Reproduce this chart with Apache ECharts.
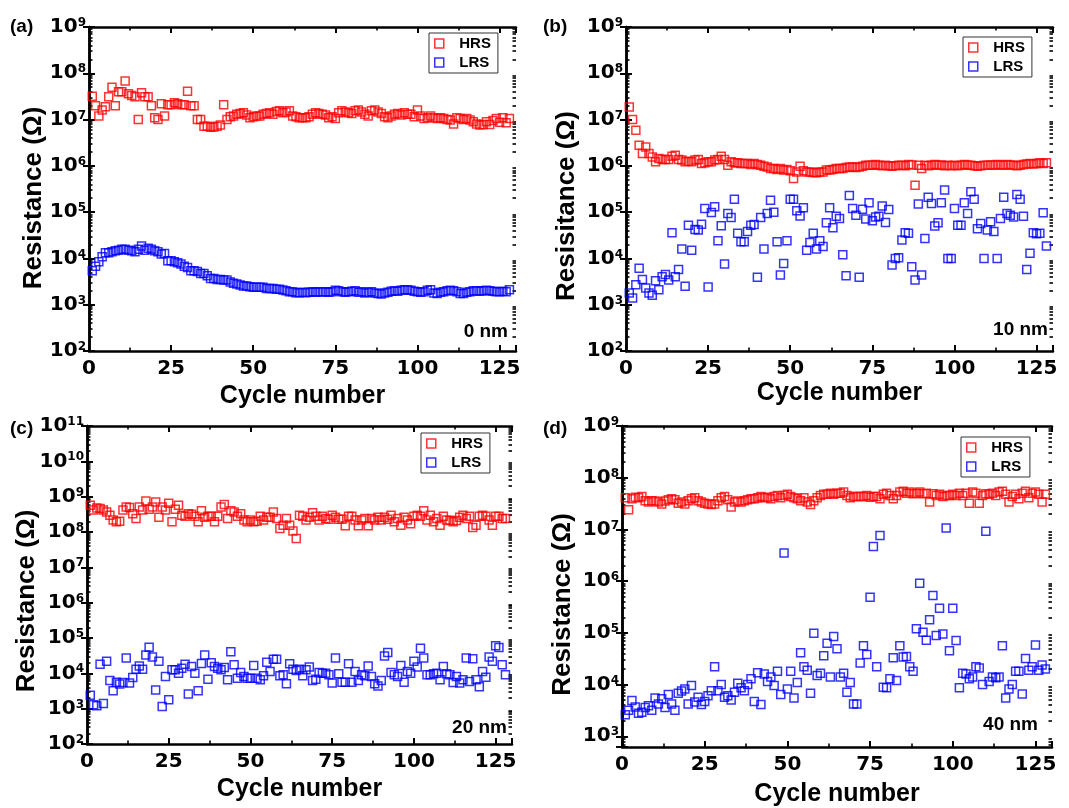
<!DOCTYPE html>
<html>
<head>
<meta charset="utf-8">
<title>Resistance vs cycle number</title>
<script src="https://cdn.jsdelivr.net/npm/echarts@6.0.0/dist/echarts.min.js"></script>
<style>
  html, body { margin: 0; padding: 0; background: #fff; }
  #chart { width: 1069px; height: 808px; }
</style>
</head>
<body>
<div id="chart"></div>
<script>
// values, one per cycle (cycle 1 .. 128), in ohm
const hrsA = [
  3.2e7, 2.0e7, 1.2e7, 1.6e7, 1.9e7, 3.1e7, 5.0e7, 2.0e7, 4.0e7, 4.0e7,
  6.8e7, 3.6e7, 3.3e7, 3.1e7, 1.0e7, 3.8e7, 3.1e7, 3.1e7, 2.0e7, 1.1e7,
  1.0e7, 2.2e7, 1.2e7, 2.1e7, 2.1e7, 2.3e7, 2.2e7, 2.1e7, 2.1e7, 4.1e7,
  2.0e7, 2.0e7, 1.0e7, 1.0e7, 7.2e6, 7.2e6, 6.8e6, 6.9e6, 7.2e6, 7.6e6,
  2.1e7, 1.0e7, 1.15e7, 1.2e7, 1.3e7, 1.35e7, 1.4e7, 1.25e7, 1.1e7, 1.15e7,
  1.2e7, 1.2e7, 1.3e7, 1.35e7, 1.4e7, 1.3e7, 1.5e7, 1.55e7, 1.4e7, 1.45e7,
  1.55e7, 1.2e7, 1.15e7, 1.1e7, 1.1e7, 1.1e7, 1.15e7, 1.3e7, 1.4e7, 1.35e7,
  1.3e7, 1.25e7, 1.1e7, 1.15e7, 1.05e7, 1.4e7, 1.55e7, 1.45e7, 1.4e7, 1.35e7,
  1.55e7, 1.6e7, 1.45e7, 1.3e7, 1.2e7, 1.55e7, 1.6e7, 1.45e7, 1.35e7, 1.15e7,
  1.1e7, 1.2e7, 1.3e7, 1.35e7, 1.25e7, 1.4e7, 1.3e7, 1.3e7, 1.15e7, 1.6e7,
  1.2e7, 1.05e7, 1.1e7, 1.2e7, 1.1e7, 1.05e7, 1.1e7, 1.05e7, 1.0e7, 9.8e6,
  8.0e6, 1.1e7, 1.05e7, 1.0e7, 1.05e7, 9.8e6, 9.0e6, 8.0e6, 7.6e6, 7.8e6,
  9.0e6, 7.8e6, 9.5e6, 1.05e7, 8.8e6, 1.1e7, 8.5e6, 1.05e7
];
const lrsA = [
  5.4e3, 6.8e3, 8.5e3, 1.09e4, 1.33e4, 1.33e4, 1.39e4, 1.47e4, 1.51e4, 1.57e4,
  1.57e4, 1.51e4, 1.47e4, 1.39e4, 1.57e4, 1.85e4, 1.51e4, 1.65e4, 1.57e4, 1.47e4,
  1.39e4, 1.24e4, 1.28e4, 8.9e3, 8.9e3, 8.5e3, 8.1e3, 7.6e3, 6.8e3, 6.4e3,
  5.4e3, 5.4e3, 5.2e3, 4.75e3, 4.75e3, 4.2e3, 3.7e3, 3.7e3, 3.5e3, 3.5e3,
  3.4e3, 3.4e3, 3.1e3, 2.9e3, 2.8e3, 2.65e3, 2.55e3, 2.55e3, 2.45e3, 2.37e3,
  2.37e3, 2.37e3, 2.37e3, 2.25e3, 2.25e3, 2.25e3, 2.15e3, 2.15e3, 2.07e3, 2.0e3,
  1.9e3, 1.9e3, 1.82e3, 1.82e3, 1.85e3, 1.82e3, 1.85e3, 1.9e3, 1.85e3, 1.9e3,
  1.88e3, 1.9e3, 1.85e3, 1.9e3, 2.05e3, 2.0e3, 1.9e3, 1.85e3, 1.9e3, 1.95e3,
  2.0e3, 1.85e3, 1.9e3, 1.8e3, 1.85e3, 1.9e3, 1.8e3, 1.75e3, 1.7e3, 1.8e3,
  1.85e3, 1.95e3, 2.0e3, 1.95e3, 2.05e3, 2.1e3, 2.1e3, 2.05e3, 1.95e3, 1.9e3,
  1.85e3, 1.9e3, 2.05e3, 2.1e3, 1.8e3, 1.75e3, 1.85e3, 1.9e3, 2.0e3, 2.05e3,
  2.0e3, 1.9e3, 1.75e3, 1.75e3, 1.85e3, 1.9e3, 2.0e3, 2.0e3, 1.95e3, 2.0e3,
  2.05e3, 2.0e3, 1.95e3, 1.9e3, 1.9e3, 1.95e3, 1.9e3, 2.1e3
];
const hrsB = [
  1.88e7, 1.0e7, 5.9e6, 2.8e6, 1.85e6, 2.57e6, 1.85e6, 1.56e6, 1.22e6, 1.44e6,
  1.37e6, 1.37e6, 1.37e6, 1.62e6, 1.7e6, 1.37e6, 1.33e6, 1.22e6, 1.26e6, 1.22e6,
  1.33e6, 1.37e6, 1.12e6, 1.16e6, 1.22e6, 1.22e6, 1.33e6, 1.37e6, 1.62e6, 1.37e6,
  1.03e6, 1.22e6, 1.16e6, 1.16e6, 1.12e6, 1.12e6, 1.12e6, 1.07e6, 1.12e6, 1.07e6,
  1.03e6, 9.8e5, 9.5e5, 8.75e5, 8.75e5, 8.3e5, 8.75e5, 8.1e5, 8.3e5, 7.8e5,
  5.3e5, 7.4e5, 9.8e5, 7.8e5, 7.4e5, 7.4e5, 7.2e5, 7.1e5, 7.4e5, 7.4e5,
  8.1e5, 8.1e5, 8.3e5, 8.75e5, 8.75e5, 8.75e5, 9.2e5, 9.5e5, 9.5e5, 9.2e5,
  9.5e5, 9.8e5, 1.03e6, 1.03e6, 1.03e6, 1.07e6, 1.03e6, 1.0e6, 1.03e6, 1.0e6,
  9.8e5, 1.0e6, 1.03e6, 1.03e6, 1.0e6, 1.07e6, 1.05e6, 3.8e5, 1.03e6, 8.75e5,
  1.03e6, 1.0e6, 1.03e6, 1.07e6, 1.03e6, 1.05e6, 1.0e6, 1.03e6, 1.0e6, 1.03e6,
  1.0e6, 1.03e6, 1.07e6, 1.05e6, 1.03e6, 1.0e6, 9.8e5, 1.0e6, 1.03e6, 1.03e6,
  1.05e6, 1.03e6, 1.07e6, 1.05e6, 1.03e6, 1.07e6, 1.05e6, 1.03e6, 1.0e6, 1.03e6,
  1.07e6, 1.1e6, 1.12e6, 1.1e6, 1.12e6, 1.16e6, 1.12e6, 1.16e6
];
const lrsB = [
  1.8e3, 1.4e3, 2.7e3, 6.1e3, 3.5e3, 2.3e3, 1.8e3, 1.6e3, 3.3e3, 2.1e3,
  4.0e3, 4.5e3, 3.4e3, 3.6e4, 4.0e3, 5.8e3, 1.6e4, 2.5e3, 5.2e4, 1.5e4,
  4.2e4, 4.1e4, 5.5e4, 1.2e5, 2.4e3, 9.8e4, 1.3e5, 2.4e4, 5.1e4, 7.6e3,
  9.4e4, 7.7e4, 1.9e5, 3.5e4, 2.3e4, 2.3e4, 3.8e4, 5.2e4, 5.4e4, 3.9e3,
  7.7e4, 1.6e4, 9.4e4, 1.8e5, 1.0e5, 2.3e4, 4.4e3, 7.8e3, 2.4e4, 1.9e5,
  1.9e5, 1.07e5, 8.3e4, 1.24e5, 1.5e4, 2.2e4, 3.5e4, 1.6e4, 2.4e4, 1.8e4,
  5.9e4, 1.24e5, 4.6e4, 8.2e4, 7.3e4, 1.2e4, 4.2e3, 2.3e5, 1.2e5, 8.6e4,
  3.9e3, 1.16e5, 7.1e4, 1.6e5, 6.5e4, 7.9e4, 8.2e4, 1.35e5, 6.0e4, 1.14e5,
  7.2e3, 1.0e4, 1.03e4, 2.5e4, 3.6e4, 3.5e4, 6.6e3, 3.4e3, 1.5e5, 4.4e3,
  2.7e4, 2.1e5, 1.54e5, 5.0e4, 5.9e4, 1.6e5, 3.0e5, 1.0e4, 1.0e4, 1.2e5,
  5.2e4, 5.2e4, 1.6e5, 9.4e4, 2.75e5, 1.9e5, 4.4e4, 5.7e4, 1.0e4, 4.1e4,
  6.2e4, 3.8e4, 1.0e4, 7.3e4, 2.1e5, 9.4e4, 8.6e4, 7.9e4, 2.4e5, 1.9e5,
  8.2e4, 5.8e3, 1.3e4, 3.6e4, 3.4e4, 3.5e4, 9.7e4, 1.85e4
];
const hrsC = [
  5.7e8, 4.2e8, 4.8e8, 4.6e8, 4.2e8, 3.7e8, 3.0e8, 2.2e8, 1.95e8, 2.0e8,
  4.2e8, 5.1e8, 4.9e8, 3.3e8, 2.4e8, 5.1e8, 4.2e8, 7.6e8, 4.4e8, 5.1e8,
  7.1e8, 2.6e8, 5.1e8, 4.2e8, 6.5e8, 1.95e8, 4.4e8, 5.7e8, 3.0e8, 2.8e8,
  3.3e8, 3.2e8, 2.8e8, 1.95e8, 4.0e8, 2.6e8, 2.8e8, 2.8e8, 1.95e8, 2.8e8,
  5.1e8, 6.0e8, 2.4e8, 4.0e8, 3.7e8, 2.8e8, 3.3e8, 2.2e8, 1.95e8, 2.2e8,
  1.95e8, 2.0e8, 2.8e8, 2.2e8, 2.6e8, 2.6e8, 3.7e8, 2.4e8, 1.26e8, 1.55e8,
  2.4e8, 1.55e8, 1.07e8, 6.6e7, 3.0e8, 2.8e8, 2.2e8, 2.6e8, 3.5e8, 2.8e8,
  2.2e8, 2.8e8, 2.4e8, 2.3e8, 3.0e8, 2.6e8, 2.3e8, 2.3e8, 1.5e8, 2.8e8,
  2.8e8, 2.2e8, 1.5e8, 2.2e8, 2.4e8, 1.5e8, 2.4e8, 2.2e8, 2.6e8, 2.2e8,
  2.6e8, 2.3e8, 3.0e8, 1.95e8, 2.4e8, 1.55e8, 2.6e8, 2.2e8, 1.7e8, 2.8e8,
  3.0e8, 2.8e8, 4.0e8, 2.2e8, 3.0e8, 1.95e8, 2.4e8, 1.55e8, 2.8e8, 2.2e8,
  2.1e8, 1.95e8, 2.1e8, 2.6e8, 3.0e8, 2.4e8, 2.8e8, 1.35e8, 1.55e8, 2.8e8,
  3.0e8, 2.8e8, 2.2e8, 1.55e8, 2.8e8, 2.8e8, 2.4e8, 2.4e8
];
const lrsC = [
  2.4e3, 1.3e3, 1.2e3, 1.8e4, 1.4e3, 2.2e4, 6.3e3, 3.2e3, 5.6e3, 5.0e3,
  5.5e3, 2.7e4, 5.3e3, 7.6e3, 1.3e4, 1.6e4, 1.3e4, 3.3e4, 5.5e4, 2.9e4,
  3.4e3, 2.2e4, 1.16e3, 8.1e3, 1.8e3, 1.26e4, 1.26e4, 1.0e4, 1.4e4, 1.8e4,
  2.6e3, 1.56e4, 1.0e4, 3.2e3, 1.9e4, 3.3e4, 6.8e3, 2.0e4, 1.56e4, 1.4e4,
  1.26e4, 1.46e4, 6.6e3, 4.1e4, 1.74e4, 7.3e3, 1.06e4, 8.1e3, 7.3e3, 7.3e3,
  1.66e4, 7.3e3, 6.6e3, 8.5e3, 2.07e4, 1.13e4, 2.5e4, 2.5e4, 8.5e3, 9.1e3,
  5.1e3, 1.86e4, 1.3e4, 1.2e4, 1.3e4, 8.5e3, 1.26e4, 1.5e4, 6.3e3, 6.8e3,
  1.06e4, 1.0e4, 1.0e4, 9.1e3, 5.3e3, 2.7e4, 9.7e3, 5.6e3, 5.6e3, 1.86e4,
  5.6e3, 1.13e4, 6.3e3, 9.1e3, 8.5e3, 1.6e4, 8.1e3, 5.1e3, 4.4e3, 6.3e3,
  3.1e4, 3.9e4, 1.06e4, 9.1e3, 8.1e3, 1.66e4, 5.6e3, 1.13e4, 1.0e4, 2.2e4,
  1.5e4, 5.1e4, 2.7e4, 9.1e3, 9.1e3, 9.7e3, 1.0e4, 6.6e3, 1.56e4, 9.7e3,
  9.1e3, 5.5e3, 8.1e3, 5.3e3, 6.6e3, 2.7e4, 5.9e3, 2.6e4, 6.6e3, 4.2e3,
  1.13e4, 7.8e3, 2.9e4, 2.2e4, 6.0e4, 5.4e4, 1.74e4, 9.1e3
];
const hrsD = [
  4.1e7, 2.4e7, 3.9e7, 4.2e7, 4.1e7, 4.35e7, 3.6e7, 3.4e7, 3.6e7, 3.55e7,
  3.4e7, 3.1e7, 3.55e7, 3.75e7, 3.9e7, 3.75e7, 3.2e7, 3.4e7, 3.1e7, 3.6e7,
  3.9e7, 4.1e7, 3.6e7, 3.4e7, 3.2e7, 3.1e7, 3.05e7, 3.1e7, 3.6e7, 4.1e7,
  4.35e7, 3.75e7, 2.7e7, 3.4e7, 3.55e7, 3.4e7, 3.6e7, 3.75e7, 3.9e7, 3.9e7,
  4.1e7, 4.35e7, 4.1e7, 4.2e7, 3.9e7, 4.35e7, 4.55e7, 4.1e7, 4.55e7, 4.8e7,
  4.35e7, 4.1e7, 3.9e7, 3.6e7, 4.1e7, 3.4e7, 3.05e7, 3.6e7, 4.1e7, 4.55e7,
  4.8e7, 4.8e7, 5.0e7, 4.8e7, 5.0e7, 5.0e7, 5.3e7, 4.55e7, 4.1e7, 4.35e7,
  4.35e7, 4.35e7, 4.35e7, 4.55e7, 4.2e7, 4.35e7, 4.35e7, 3.9e7, 4.8e7, 5.0e7,
  4.55e7, 3.9e7, 4.55e7, 5.3e7, 5.5e7, 5.0e7, 5.3e7, 4.9e7, 5.0e7, 5.3e7,
  4.9e7, 5.0e7, 3.4e7, 4.9e7, 4.55e7, 4.8e7, 4.35e7, 4.55e7, 4.55e7, 4.8e7,
  4.55e7, 5.0e7, 4.55e7, 5.0e7, 3.2e7, 5.3e7, 5.0e7, 3.2e7, 4.55e7, 4.9e7,
  4.8e7, 5.0e7, 4.55e7, 5.3e7, 5.5e7, 4.8e7, 3.4e7, 4.35e7, 4.8e7, 3.9e7,
  5.0e7, 5.5e7, 4.1e7, 5.0e7, 5.3e7, 4.8e7, 3.4e7, 4.8e7
];
const lrsD = [
  2.6e3, 3.2e3, 4.9e3, 3.7e3, 2.8e3, 2.9e3, 3.6e3, 3.9e3, 3.2e3, 5.5e3,
  4.2e3, 5.3e3, 3.6e3, 6.4e3, 4.2e3, 3.2e3, 6.8e3, 7.5e3, 8.2e3, 4.2e3,
  9.6e3, 4.6e3, 5.7e3, 4.1e3, 4.7e3, 6.1e3, 7.6e3, 2.2e4, 7.6e3, 1.0e4,
  5.7e3, 6.1e3, 5.0e3, 7.1e3, 1.06e4, 8.7e3, 7.6e3, 1.0e4, 1.3e4, 4.7e3,
  1.7e4, 4.1e3, 1.6e4, 1.15e4, 1.4e4, 9.6e3, 1.8e4, 6.4e3, 3.5e6, 8.2e3,
  1.8e4, 5.5e3, 1.1e4, 4.1e4, 2.2e4, 1.9e4, 6.8e3, 9.8e4, 1.5e4, 1.65e4,
  3.6e4, 6.3e4, 1.4e4, 8.5e4, 4.9e4, 1.4e4, 1.65e4, 7.1e3, 1.1e4, 4.2e3,
  4.2e3, 2.6e4, 5.6e4, 3.8e4, 4.9e5, 4.7e6, 2.2e4, 7.6e6, 8.9e3, 8.7e3,
  1.3e4, 3.3e4, 1.2e4, 5.6e4, 3.4e4, 3.5e4, 2.2e4, 1.8e4, 1.2e5, 9.1e5,
  1.03e5, 7.2e4, 1.8e5, 5.3e5, 8.9e4, 3.0e5, 9.5e4, 1.07e7, 4.5e4, 3.0e5,
  7.1e4, 8.7e3, 1.65e4, 1.6e4, 1.3e4, 1.4e4, 2.2e4, 2.1e4, 1.0e4, 9.2e6,
  1.15e4, 1.4e4, 1.35e4, 1.4e4, 5.6e4, 5.5e3, 8.2e3, 1.0e4, 1.8e4, 1.8e4,
  6.6e3, 3.2e4, 1.9e4, 2.2e4, 5.8e4, 1.9e4, 2.4e4, 2.0e4
];

const seriesNames = ['HRS', 'LRS'];
const panelTags = ['(a)', '(b)', '(c)', '(d)'];
const thicknessNotes = ['0 nm', '10 nm', '20 nm', '40 nm'];
const yTitles = ['Resistance (Ω)', 'Resisitance (Ω)', 'Resistance (Ω)', 'Resistance (Ω)'];
const xTitle = 'Cycle number';

const RED = '#ff0000';
const BLUE = '#0000ff';
const TICK_FONT = 'DejaVu Sans';
const TEXT_FONT = 'Liberation Sans';

// layout of the four panels
const panels = [
  { hrs: hrsA, lrs: lrsA, yMin: 1e2, yMax: 1e9,
    grid: { left: 89, top: 27, width: 427, height: 324 },
    legend: { left: 429, top: 33 }, tag: [10, 27], note: [508, 332], yGap: 42, yShift: 18, xGap: 33 },
  { hrs: hrsB, lrs: lrsB, yMin: 1e2, yMax: 1e9,
    grid: { left: 626, top: 27, width: 427, height: 324 },
    legend: { left: 963, top: 37 }, tag: [543, 27], note: [1048, 330], yGap: 46, yShift: 34, xGap: 30 },
  { hrs: hrsC, lrs: lrsC, yMin: 1e2, yMax: 1e11,
    grid: { left: 87, top: 426, width: 425, height: 318 },
    legend: { left: 421, top: 433 }, tag: [10, 429], note: [507, 728], yGap: 47, yShift: 32, xGap: 33 },
  { hrs: hrsD, lrs: lrsD, yMin: 620, yMax: 1e9,
    grid: { left: 622, top: 426, width: 430, height: 321 },
    legend: { left: 961, top: 437 }, tag: [543, 429], note: [1038, 725], yGap: 46, yShift: 36, xGap: 35 }
];

function powerLabel(v) {
  const e = Math.log10(v);
  const n = Math.round(e);
  return Math.abs(e - n) < 1e-6 ? '{b|10}{s|' + n + '}' : '';
}

// log-spaced minor tick positions (2..9 x 10^n), expressed in decades
function minorDecades(lo, hi) {
  const out = [];
  for (let n = Math.floor(lo); n < Math.ceil(hi); n++) {
    for (let k = 2; k <= 9; k++) {
      const t = n + Math.log10(k);
      if (t > lo && t < hi) out.push(t);
    }
  }
  return out;
}

const frameLine = { show: true, lineStyle: { color: '#000', width: 2.5 } };
const majorTick = { show: true, inside: true, length: 6, lineStyle: { color: '#000', width: 2 } };
const minorTick = { show: true, length: 3.5, lineStyle: { color: '#000', width: 1.6 } };

function xAxisOf(p, i, position, withLabels) {
  return {
    type: 'value', gridIndex: i, position: position, min: 0, max: 130, interval: 25,
    axisLine: frameLine, axisTick: majorTick,
    minorTick: Object.assign({ splitNumber: 2 }, minorTick),
    splitLine: { show: false }, minorSplitLine: { show: false },
    axisLabel: {
      show: withLabels, margin: 8, showMaxLabel: false,
      formatter: v => (v % 25 === 0 ? String(v) : ''),
      fontFamily: TICK_FONT, fontWeight: 'bold', fontSize: 20, color: '#000'
    },
    name: withLabels ? xTitle : '', nameLocation: 'middle', nameGap: p.xGap, nameMoveOverlap: false,
    nameTextStyle: { fontFamily: TEXT_FONT, fontWeight: 'bold', fontSize: 25, color: '#000' }
  };
}

function logAxisOf(p, i, position, withLabels, title) {
  return {
    type: 'log', logBase: 10, gridIndex: i, position: position, min: p.yMin, max: p.yMax,
    axisLine: frameLine, axisTick: majorTick,
    splitLine: { show: false },
    axisLabel: {
      show: withLabels, margin: 3, formatter: powerLabel,
      rich: {
        b: { fontFamily: TICK_FONT, fontWeight: 'bold', fontSize: 20, lineHeight: 20, color: '#000' },
        s: { fontFamily: TICK_FONT, fontWeight: 'bold', fontSize: 12, lineHeight: 12, verticalAlign: 'top', color: '#000' }
      }
    },
    name: withLabels ? title : '', nameLocation: 'middle', nameGap: p.yGap, nameMoveOverlap: false,
    nameTextStyle: { fontFamily: TEXT_FONT, fontWeight: 'bold', fontSize: 26, color: '#000', padding: [0, p.yShift, 0, 0] }
  };
}

function minorAxisOf(p, i, position) {
  const lo = Math.log10(p.yMin), hi = Math.log10(p.yMax);
  return {
    type: 'value', gridIndex: i, position: position, min: lo, max: hi,
    axisLine: { show: false },
    axisTick: { show: true, inside: true, length: 3.5, customValues: minorDecades(lo, hi), lineStyle: { color: '#000', width: 1.6 } },
    axisLabel: { show: false }, splitLine: { show: false }
  };
}

function scatterOf(name, values, color, xi, yi) {
  return {
    name: name, type: 'scatter', xAxisIndex: xi, yAxisIndex: yi,
    symbol: 'rect', symbolSize: 8, silent: true,
    itemStyle: { color: 'rgba(0,0,0,0)', borderColor: color, borderWidth: 1.5 },
    emphasis: { disabled: true },
    data: values.map((v, k) => [k + 1, v])
  };
}

const option = {
  animation: false,
  backgroundColor: '#fff',
  grid: [], xAxis: [], yAxis: [], legend: [], series: [], graphic: []
};

panels.forEach((p, i) => {
  option.grid.push(Object.assign({ containLabel: false, outerBoundsMode: 'none' }, p.grid));
  option.xAxis.push(xAxisOf(p, i, 'bottom', true), xAxisOf(p, i, 'top', false));
  option.yAxis.push(
    logAxisOf(p, i, 'left', true, yTitles[i]),
    logAxisOf(p, i, 'right', false, ''),
    minorAxisOf(p, i, 'left'),
    minorAxisOf(p, i, 'right')
  );
  option.series.push(
    scatterOf(seriesNames[0], p.hrs, RED, i * 2, i * 4),
    scatterOf(seriesNames[1], p.lrs, BLUE, i * 2, i * 4)
  );
  option.legend.push({
    data: seriesNames, orient: 'vertical', left: p.legend.left, top: p.legend.top,
    icon: 'path://M0,0H9V9H0Z', itemWidth: 30, itemHeight: 9, itemGap: 4,
    padding: [3, 7, 3, 5], borderColor: '#333', borderWidth: 1, selectedMode: false,
    itemStyle: { color: 'rgba(0,0,0,0)', borderWidth: 1.5 },
    textStyle: { fontFamily: TEXT_FONT, fontWeight: 'bold', fontSize: 15, color: '#000' }
  });
  option.graphic.push({
    type: 'text', x: p.tag[0], y: p.tag[1], silent: true,
    style: { text: panelTags[i], font: 'bold 19px "Liberation Sans"', fill: '#000',
      align: 'left', verticalAlign: 'middle', textAlign: 'left', textVerticalAlign: 'middle' }
  }, {
    type: 'text', x: p.note[0], y: p.note[1], silent: true,
    style: { text: thicknessNotes[i], font: 'bold 19px "Liberation Sans"', fill: '#000',
      align: 'right', verticalAlign: 'middle', textAlign: 'right', textVerticalAlign: 'middle' }
  });
});

const chart = echarts.init(document.getElementById('chart'));
chart.setOption(option);
</script>
</body>
</html>
